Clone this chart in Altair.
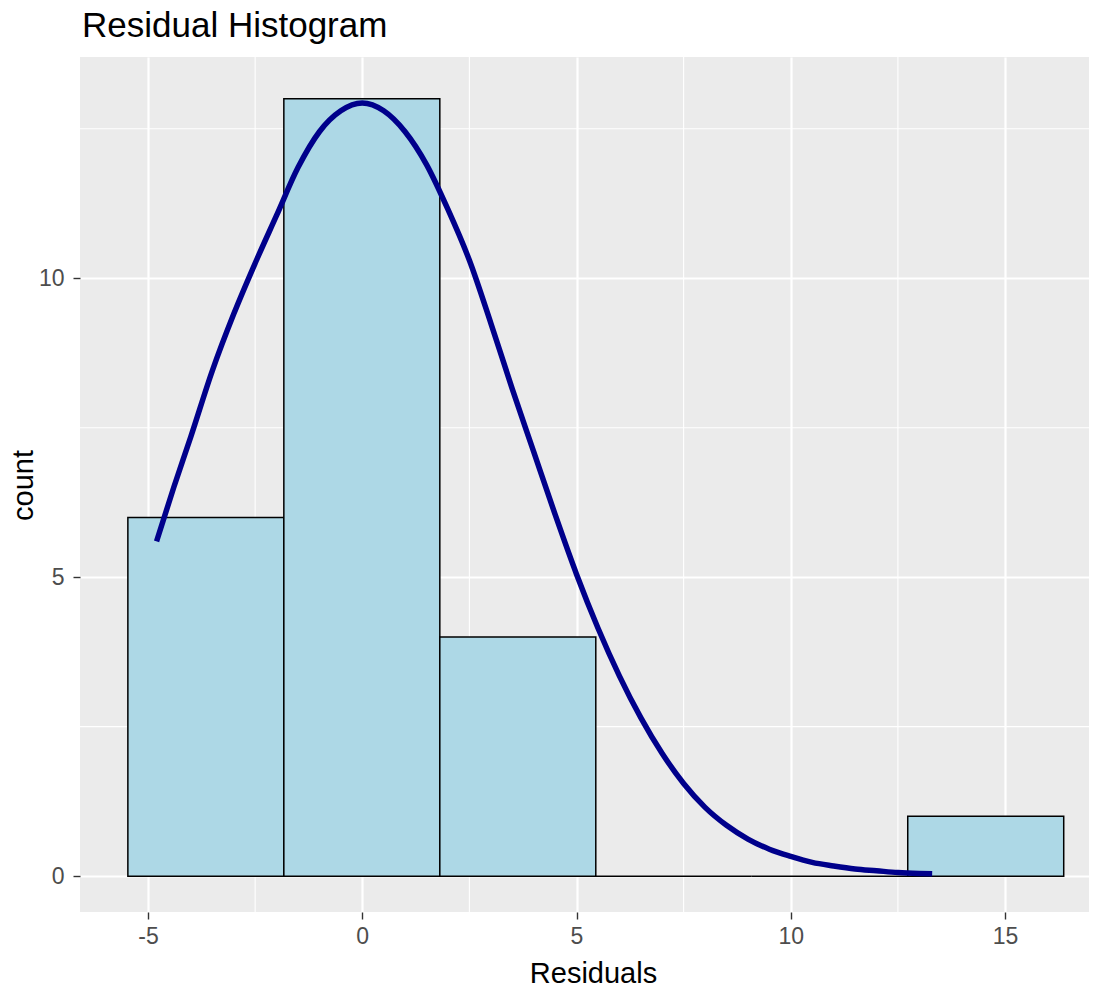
import altair as alt
import pandas as pd

# Histogram bins
bin_start = [-5.47, -1.83, 1.81, 5.45, 9.09, 12.73]
bin_end = [-1.83, 1.81, 5.45, 9.09, 12.73, 16.37]
counts = [6, 13, 4, 0, 0, 1]

# Normal curve overlay
curve_x = [-4.8, -4.4, -4.0, -3.5, -3.0, -2.5, -2.0, -1.5, -1.0, -0.5, 0.0, 0.5,
           1.0, 1.5, 2.0, 2.5, 3.0, 3.5, 4.0, 4.5, 5.0, 5.5, 6.0, 6.5, 7.0, 7.5,
           8.0, 8.5, 9.0, 9.5, 10.0, 10.5, 11.0, 11.5, 12.0, 12.5, 13.0, 13.3]
curve_y = [5.6, 6.5, 7.35, 8.45, 9.4, 10.25, 11.05, 11.85, 12.45, 12.8, 12.93, 12.8,
           12.45, 11.9, 11.15, 10.3, 9.25, 8.15, 7.1, 6.05, 5.05, 4.15, 3.35, 2.65, 2.05, 1.55,
           1.15, 0.85, 0.62, 0.45, 0.33, 0.23, 0.17, 0.12, 0.09, 0.06, 0.045, 0.04]

x_major = [-5, 0, 5, 10, 15]
x_minor = [-2.5, 2.5, 7.5, 12.5]
y_major = [0, 5, 10]
y_minor = [2.5, 7.5, 12.5]

FONT = "Liberation Sans"
xdom = [-6.587, 16.96]
ydom = [-0.60, 13.70]
xs = alt.Scale(domain=xdom, nice=False, zero=False)
ys = alt.Scale(domain=ydom, nice=False, zero=False)

x_axis = alt.Axis(
    values=x_major, grid=True, gridColor="white", gridWidth=2.2,
    domain=False, tickColor="#333333", tickSize=7, tickWidth=1.4,
    labelExpr="toString(datum.value)",
    labelFont=FONT, labelFontSize=23, labelColor="#4D4D4D", labelPadding=6,
    title="Residuals", titleFont=FONT, titleFontSize=29, titleFontWeight="normal",
    titleColor="black", titleX=513, titleY=70, titleBaseline="alphabetic",
    titleAlign="center")
y_axis = alt.Axis(
    values=y_major, grid=True, gridColor="white", gridWidth=2.2,
    domain=False, tickColor="#333333", tickSize=7, tickWidth=1.4,
    labelExpr="toString(datum.value)",
    labelFont=FONT, labelFontSize=23, labelColor="#4D4D4D", labelPadding=9,
    title="count", titleFont=FONT, titleFontSize=29, titleFontWeight="normal",
    titleColor="black", titleX=-48, titleY=428, titleBaseline="alphabetic",
    titleAlign="center", titleAngle=270)

bars_df = pd.DataFrame({"start": bin_start, "end": bin_end, "count": counts})
curve_df = pd.DataFrame({"x": curve_x, "y": curve_y})

minor_vx = alt.Chart(pd.DataFrame({"v": x_minor})).mark_rule(
    color="white", strokeWidth=1.1
).encode(x=alt.X("v:Q", scale=xs, axis=x_axis))

minor_hy = alt.Chart(pd.DataFrame({"v": y_minor})).mark_rule(
    color="white", strokeWidth=1.1
).encode(y=alt.Y("v:Q", scale=ys, axis=y_axis))

bars = alt.Chart(bars_df).mark_rect(
    fill="#ADD8E6", stroke="black", strokeWidth=1.5
).encode(
    x=alt.X("start:Q", scale=xs, axis=x_axis),
    x2="end:Q",
    y=alt.Y("count:Q", scale=ys, axis=y_axis),
    y2=alt.datum(0),
)

curve = alt.Chart(curve_df).mark_line(
    color="#00008B", strokeWidth=5.5, interpolate="monotone"
).encode(
    x=alt.X("x:Q", scale=xs, axis=x_axis),
    y=alt.Y("y:Q", scale=ys, axis=y_axis),
)

chart = alt.layer(minor_vx, minor_hy, bars, curve).properties(
    width=1009,
    height=855,
    autosize=alt.AutoSizeParams(type="none"),
    padding={"left": 72, "top": 49, "right": 0, "bottom": 75},
    background="white",
    title=alt.TitleParams(
        "Residual Histogram", anchor="start", frame="group", font=FONT,
        fontSize=35, fontWeight="normal", color="black", offset=12, dx=2),
).configure_view(fill="#EBEBEB", stroke=None)

chart.save("out.html", embed_options={"renderer": "svg", "actions": False})
